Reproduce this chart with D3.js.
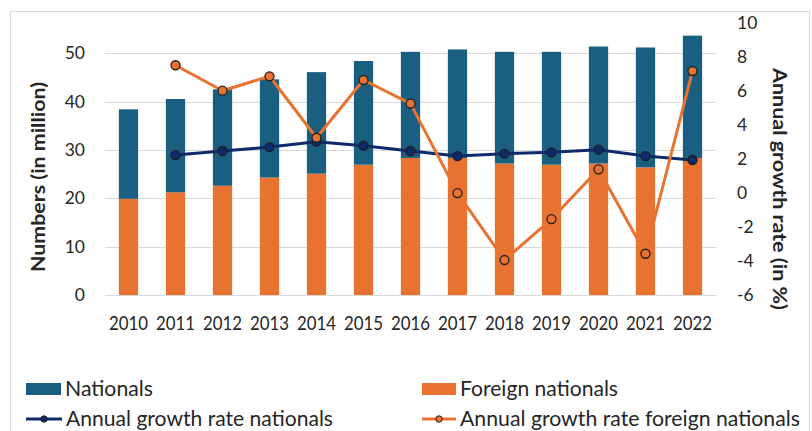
<!DOCTYPE html>
<html><head><meta charset="utf-8">
<script src="https://cdn.jsdelivr.net/npm/d3@7"></script>
<style>body{margin:0;background:#fff;}svg{display:block;font-family:Lato,"Open Sans",sans-serif;}</style>
</head><body><svg id="c" width="812" height="431"></svg>
<script>
const years = ["2010","2011","2012","2013","2014","2015","2016","2017","2018","2019","2020","2021","2022"];
const foreign = [19.9,21.25,22.6,24.3,25.1,26.95,28.35,28.35,27.2,26.95,27.2,26.4,28.35];
const nationals = [18.5,19.3,19.95,20.3,21.0,21.45,21.95,22.45,23.1,23.35,24.2,24.8,25.3];
const growthNationals = [null,2.24,2.48,2.71,3.03,2.79,2.48,2.18,2.32,2.40,2.56,2.18,1.95];
const growthForeign = [null,7.53,6.03,6.88,3.26,6.66,5.27,0.0,-3.94,-1.53,1.40,-3.57,7.19];
const leftTicks = [0,10,20,30,40,50];
const rightTicks = [-6,-4,-2,0,2,4,6,8,10];

const cBlue="#1a5e80", cOrange="#e8722f", cNavy="#0e2a6a", cText="#262626", cGrid="#d9d9d9";
const svg = d3.select("#c");
svg.append("rect").attr("x",10.5).attr("y",11.5).attr("width",799).attr("height",440)
  .attr("fill","none").attr("stroke",cGrid);

const x = d3.scaleBand().domain(years).range([105,716]).paddingInner(0.59).paddingOuter(0.295);
const yL = d3.scaleLinear().domain([0,56.2]).range([295,23.3]);
const yR = d3.scaleLinear().domain([-6,10]).range([295,23.3]);

// gridlines
svg.append("g").selectAll("line").data(leftTicks).join("line")
  .attr("x1",105).attr("x2",716).attr("y1",d=>Math.round(yL(d))+0.5).attr("y2",d=>Math.round(yL(d))+0.5)
  .attr("stroke",cGrid).attr("stroke-width",1);

// bars
const bars = svg.append("g");
bars.selectAll(".f").data(years).join("rect").attr("class","f")
  .attr("x",d=>x(d)).attr("width",x.bandwidth())
  .attr("y",(d,i)=>yL(foreign[i])).attr("height",(d,i)=>yL(0)-yL(foreign[i])).attr("fill",cOrange);
bars.selectAll(".n").data(years).join("rect").attr("class","n")
  .attr("x",d=>x(d)).attr("width",x.bandwidth())
  .attr("y",(d,i)=>yL(foreign[i]+nationals[i])).attr("height",(d,i)=>yL(foreign[i])-yL(foreign[i]+nationals[i])).attr("fill",cBlue);

// lines
const cx = d=>x(d)+x.bandwidth()/2;
function drawLine(vals,color){
  const pts = years.map((d,i)=>({d,v:vals[i]})).filter(p=>p.v!==null);
  svg.append("path").datum(pts)
    .attr("d",d3.line().x(p=>cx(p.d)).y(p=>yR(p.v)))
    .attr("fill","none").attr("stroke",color).attr("stroke-width",3).attr("stroke-linejoin","round");
  svg.append("g").selectAll("circle").data(pts).join("circle")
    .attr("cx",p=>cx(p.d)).attr("cy",p=>yR(p.v)).attr("r",4.5)
    .attr("fill",color).attr("stroke","#1f1f1f").attr("stroke-width",1.3);
}
drawLine(growthNationals,cNavy);
drawLine(growthForeign,cOrange);

// axes labels
svg.append("g").selectAll("text").data(leftTicks).join("text")
  .attr("x",85).attr("y",d=>yL(d)).attr("dy","0.35em").attr("text-anchor","end")
  .attr("font-size",17.5).attr("fill",cText).text(d=>d);
svg.append("g").selectAll("text").data(rightTicks).join("text")
  .attr("x",737).attr("y",d=>yR(d)).attr("dy","0.35em").attr("text-anchor","start")
  .attr("font-size",17.5).attr("fill",cText).text(d=>d);
svg.append("g").selectAll("text").data(years).join("text")
  .attr("x",d=>cx(d)).attr("y",329.5).attr("text-anchor","middle")
  .attr("font-size",19).attr("fill",cText)
  .attr("textLength",39).attr("lengthAdjust","spacingAndGlyphs").text(d=>d);

svg.append("text").attr("transform","translate(45,177) rotate(-90)")
  .attr("text-anchor","middle").attr("font-size",19).attr("font-weight","bold").attr("fill",cText)
  .attr("textLength",190).attr("lengthAdjust","spacingAndGlyphs").text("Numbers (in million)");
svg.append("text").attr("transform","translate(773,189) rotate(90)")
  .attr("text-anchor","middle").attr("font-size",19).attr("font-weight","bold").attr("fill",cText)
  .attr("textLength",242).attr("lengthAdjust","spacingAndGlyphs").text("Annual growth rate (in %)");

// legend
const lg = svg.append("g");
const legendItems = [
  {label:"Nationals", type:"bar", color:cBlue, x:26, w:35, tx:65, tl:88, row:0},
  {label:"Foreign nationals", type:"bar", color:cOrange, x:422, w:34, tx:460, tl:158, row:0},
  {label:"Annual growth rate nationals", type:"line", color:cNavy, x:26, w:36, tx:66, tl:267, row:1},
  {label:"Annual growth rate foreign nationals", type:"line", color:cOrange, x:422, w:34, tx:460, tl:340, row:1}
];
legendItems.forEach(it=>{
  const yc = it.row===0 ? 389 : 419;
  if(it.type==="bar"){
    lg.append("rect").attr("x",it.x).attr("y",yc-6).attr("width",it.w).attr("height",12).attr("fill",it.color);
  } else {
    lg.append("line").attr("x1",it.x).attr("x2",it.x+it.w).attr("y1",yc).attr("y2",yc)
      .attr("stroke",it.color).attr("stroke-width",3);
    lg.append("circle").attr("cx",it.x+it.w/2).attr("cy",yc).attr("r",3.2)
      .attr("fill",it.color).attr("stroke","#1f1f1f").attr("stroke-width",1);
  }
  lg.append("text").attr("x",it.tx).attr("y",yc+7).attr("font-size",20.5).attr("fill",cText)
    .attr("textLength",it.tl).attr("lengthAdjust","spacingAndGlyphs").text(it.label);
});
</script></body></html>
